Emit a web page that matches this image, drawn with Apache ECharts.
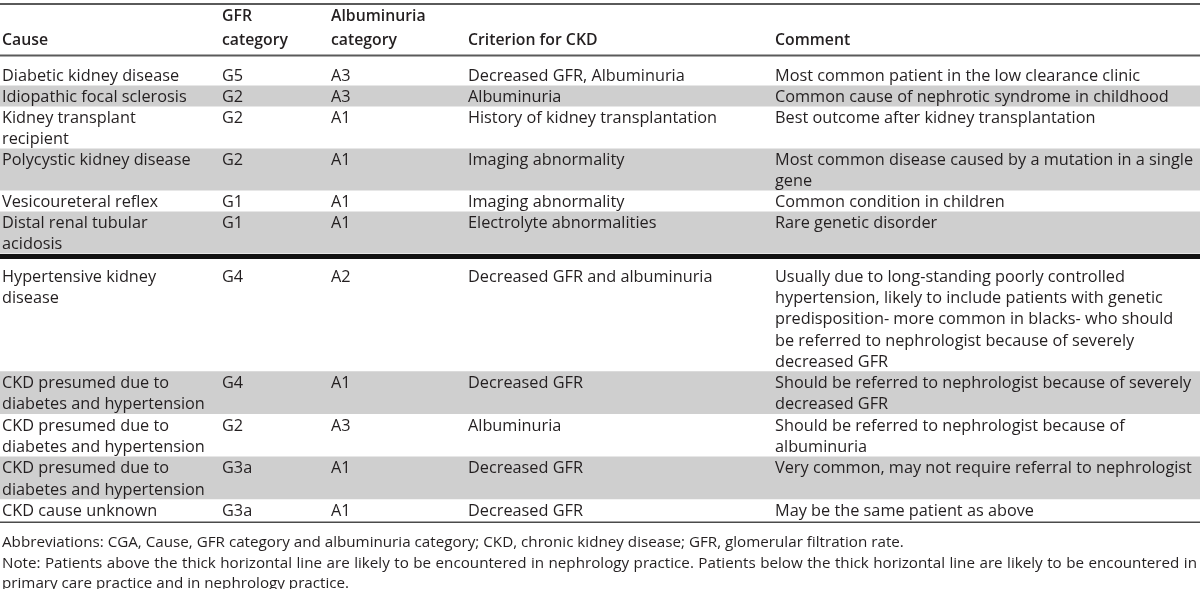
<!DOCTYPE html>
<html>
<head>
<meta charset="utf-8">
<script src="https://cdn.jsdelivr.net/npm/echarts@6/dist/echarts.min.js"></script>
<style>
  html, body { margin: 0; padding: 0; background: #fff; }
  #chart { width: 1200px; height: 589px; }
</style>
</head>
<body>
<div id="chart"></div>
<script>
// ---------- DATA ----------
const headers = [
  'Cause',
  'GFR\ncategory',
  'Albuminuria\ncategory',
  'Criterion for CKD',
  'Comment'
];
const causes = [
  'Diabetic kidney disease',
  'Idiopathic focal sclerosis',
  'Kidney transplant\nrecipient',
  'Polycystic kidney disease',
  'Vesicoureteral reflex',
  'Distal renal tubular\nacidosis',
  'Hypertensive kidney\ndisease',
  'CKD presumed due to\ndiabetes and hypertension',
  'CKD presumed due to\ndiabetes and hypertension',
  'CKD presumed due to\ndiabetes and hypertension',
  'CKD cause unknown'
];
const gfrCategories = ['G5', 'G2', 'G2', 'G2', 'G1', 'G1', 'G4', 'G4', 'G2', 'G3a', 'G3a'];
const albuminuriaCategories = ['A3', 'A3', 'A1', 'A1', 'A1', 'A1', 'A2', 'A1', 'A3', 'A1', 'A1'];
const criteria = [
  'Decreased GFR, Albuminuria',
  'Albuminuria',
  'History of kidney transplantation',
  'Imaging abnormality',
  'Imaging abnormality',
  'Electrolyte abnormalities',
  'Decreased GFR and albuminuria',
  'Decreased GFR',
  'Albuminuria',
  'Decreased GFR',
  'Decreased GFR'
];
const comments = [
  'Most common patient in the low clearance clinic',
  'Common cause of nephrotic syndrome in childhood',
  'Best outcome after kidney transplantation',
  'Most common disease caused by a mutation in a single\ngene',
  'Common condition in children',
  'Rare genetic disorder',
  'Usually due to long-standing poorly controlled\nhypertension, likely to include patients with genetic\npredisposition- more common in blacks- who should\nbe referred to nephrologist because of severely\ndecreased GFR',
  'Should be referred to nephrologist because of severely\ndecreased GFR',
  'Should be referred to nephrologist because of\nalbuminuria',
  'Very common, may not require referral to nephrologist',
  'May be the same patient as above'
];
const thickLineAfterRow = 5;  // patients above it: nephrology practice
const footnotes = [
  'Abbreviations: CGA, Cause, GFR category and albuminuria category; CKD, chronic kidney disease; GFR, glomerular filtration rate.',
  'Note: Patients above the thick horizontal line are likely to be encountered in nephrology practice. Patients below the thick horizontal line are likely to be encountered in',
  'primary care practice and in nephrology practice.'
];
const justifiedFootnote = 1;

// ---------- LAYOUT / STYLE ----------
const W = 1200, H = 589;
const colX = [2, 222, 331, 468, 775];
const FONT = '"Open Sans", "Noto Sans", sans-serif';
const FS_BODY = 16.3;
const FS_HEAD = 15.8;
const FS_NOTE = 15.2;
const TEXT = '#231f20';
const BAND = '#cfcfcf';
const LINE_H_UPPER = 21.0;
const LINE_H_LOWER = 21.3;
const TEXT_DY = 1.5;
const BODY_TOP = 64.5;
const THICK_GAP = 11.35;
const NOTE_RIGHT = 1197;
const columns = [causes, gfrCategories, albuminuriaCategories, criteria, comments];

// compute row geometry from line counts
const rowLines = causes.map((_, r) => Math.max.apply(null, columns.map(c => c[r].split('\n').length)));
const rowTop = [], rowLH = [];
let yCur = BODY_TOP;
let thickY = 0;
rowLines.forEach((n, r) => {
  const lh = r <= thickLineAfterRow ? LINE_H_UPPER : LINE_H_LOWER;
  rowTop.push(yCur); rowLH.push(lh);
  yCur += n * lh;
  if (r === thickLineAfterRow) { thickY = yCur + 3; yCur += THICK_GAP; }
});
const bodyEnd = yCur;
const rules = [
  { y: 4, w: 2, c: '#5a5a5a' },
  { y: 55.5, w: 2, c: '#5a5a5a' },
  { y: thickY, w: 5, c: '#111' },
  { y: bodyEnd + 1.8, w: 1.5, c: '#4a4a4a' }
];

// text measurement (for justified footnote line)
const mctx = document.createElement('canvas').getContext('2d');
function measure(str, size) {
  mctx.font = size + 'px ' + FONT;
  return mctx.measureText(str).width;
}

const chart = echarts.init(document.getElementById('chart'), null, { renderer: 'canvas' });

function textEl(api, x, y, str, size, weight) {
  const p = api.coord([x, y]);
  return {
    type: 'text', x: p[0], y: p[1],
    style: { text: str, fontFamily: FONT, fontSize: size, fontWeight: weight || 'normal',
             fill: TEXT, textAlign: 'left', textVerticalAlign: 'middle' }
  };
}

const option = {
  animation: false,
  backgroundColor: '#fff',
  grid: { left: 0, right: 0, top: 0, bottom: 0 },
  xAxis: { type: 'value', min: 0, max: W, show: false },
  yAxis: { type: 'value', min: 0, max: H, inverse: true, show: false },
  series: [
    { // shaded row bands
      type: 'custom', silent: true,
      data: rowLines.map((n, r) => [r, n]),
      renderItem: function (params, api) {
        const r = api.value(0);
        if (r % 2 === 0) return null;
        const p0 = api.coord([0, rowTop[r]]);
        const p1 = api.coord([W, rowTop[r] + rowLines[r] * rowLH[r]]);
        return { type: 'rect', shape: { x: p0[0], y: p0[1], width: p1[0] - p0[0], height: p1[1] - p0[1] },
                 style: { fill: BAND } };
      }
    },
    { // rules
      type: 'custom', silent: true, z: 3,
      data: rules.map((d, i) => [i, d.y]),
      renderItem: function (params, api) {
        const d = rules[api.value(0)];
        const p0 = api.coord([0, d.y]);
        const p1 = api.coord([W, d.y]);
        return { type: 'line', shape: { x1: p0[0], y1: p0[1], x2: p1[0], y2: p1[1] },
                 style: { stroke: d.c, lineWidth: d.w } };
      }
    },
    { // header cells
      type: 'custom', silent: true, z: 4,
      data: headers.map((h, c) => [c]),
      renderItem: function (params, api) {
        const c = api.value(0);
        const lines = headers[c].split('\n');
        const children = lines.map((s, k) =>
          textEl(api, colX[c], 40.5 - (lines.length - 1 - k) * 24.5, s, FS_HEAD, 600));
        return { type: 'group', children: children };
      }
    },
    { // body cells
      type: 'custom', silent: true, z: 4,
      data: (function () { const a = []; causes.forEach((_, r) => columns.forEach((_, c) => a.push([r, c]))); return a; })(),
      renderItem: function (params, api) {
        const r = api.value(0), c = api.value(1);
        const lines = columns[c][r].split('\n');
        const children = lines.map((s, k) =>
          textEl(api, colX[c], rowTop[r] + rowLH[r] / 2 + TEXT_DY + k * rowLH[r], s, FS_BODY));
        return { type: 'group', children: children };
      }
    },
    { // footnotes
      type: 'custom', silent: true, z: 4,
      data: footnotes.map((f, i) => [i]),
      renderItem: function (params, api) {
        const i = api.value(0);
        const y = bodyEnd + 21 + TEXT_DY + i * 20.6;
        if (i !== justifiedFootnote) return textEl(api, 2, y, footnotes[i], FS_NOTE);
        // justified line: spread words to fill the table width
        const words = footnotes[i].split(' ');
        const widths = words.map(w => measure(w, FS_NOTE));
        const total = widths.reduce((a, b) => a + b, 0);
        const gap = (NOTE_RIGHT - 2 - total) / (words.length - 1);
        let x = 2;
        const children = words.map((w, k) => {
          const el = textEl(api, x, y, w, FS_NOTE);
          x += widths[k] + gap;
          return el;
        });
        return { type: 'group', children: children };
      }
    }
  ]
};
chart.setOption(option);
</script>
</body>
</html>
